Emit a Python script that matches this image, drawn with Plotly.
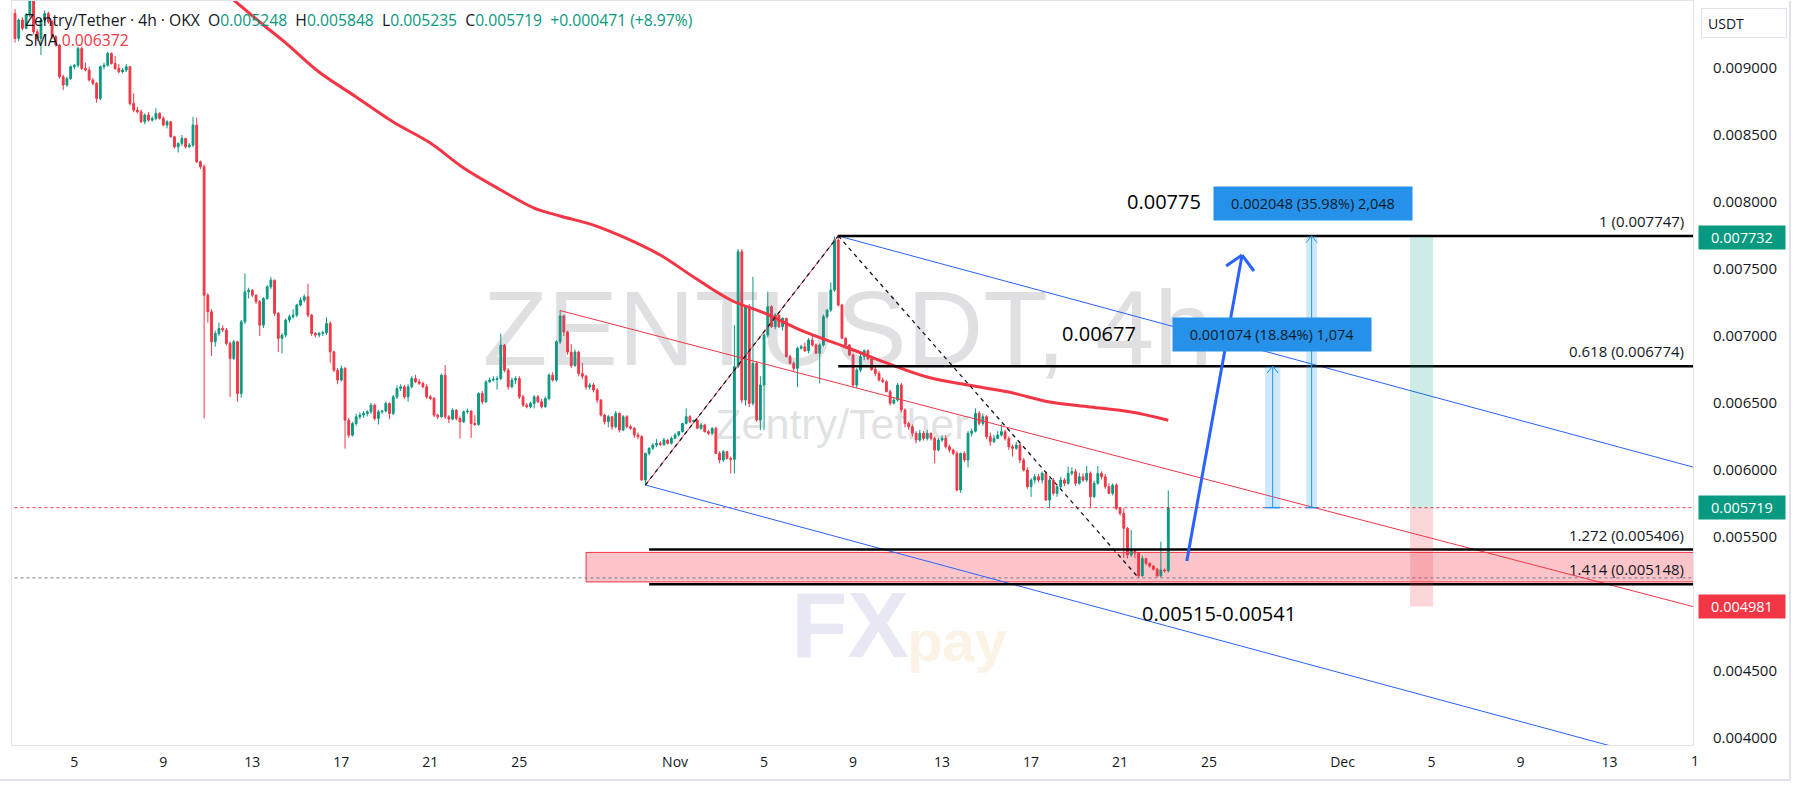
import pandas as pd
import plotly.graph_objects as go

# ---------------- data (prices in micro-USDT, 1e-6) ----------------
UNIT = 1e-6
T0 = pd.Timestamp("2024-10-02 08:00")
BAR_HOURS = 4

opens = [
    9407, 9221, 9358, 9296, 9395, 9500, 9270, 9221, 9358, 9407,
    9345, 9233, 9171, 8935, 8873, 8922, 9010, 9020, 9146, 8997,
    8985, 8910, 8885, 8773, 9010, 9020, 9109, 9034, 8997, 8972,
    8985, 9010, 8735, 8686, 8673, 8599, 8649, 8611, 8624, 8661,
    8624, 8574, 8599, 8487, 8412, 8437, 8474, 8412, 8425, 8574,
    8300, 8263, 7305, 7181, 6957, 7019, 7057, 7045, 6945, 6832,
    6957, 6571, 7106, 7330, 7342, 7305, 7256, 7081, 7280, 7367,
    7417, 7169, 6982, 7007, 7119, 7144, 7156, 7231, 7268, 7293,
    7156, 7019, 7007, 7019, 7024, 7094, 6882, 6745, 6671, 6758,
    6372, 6260, 6347, 6397, 6410, 6422, 6434, 6484, 6385, 6434,
    6440, 6497, 6422, 6546, 6608, 6621, 6546, 6621, 6683, 6658,
    6646, 6621, 6546, 6534, 6410, 6397, 6708, 6397, 6380, 6447,
    6385, 6360, 6434, 6440, 6347, 6340, 6571, 6509, 6658, 6671,
    6676, 6683, 6932, 6745, 6621, 6671, 6683, 6546, 6484, 6472,
    6497, 6546, 6509, 6472, 6534, 6708, 6671, 6957, 7150, 7030,
    6880, 6780, 6880, 6720, 6700, 6620, 6635, 6597, 6522, 6410,
    6361, 6398, 6323, 6423, 6298, 6398, 6323, 6311, 6262, 6249,
    5925, 6124, 6162, 6186, 6199, 6190, 6224, 6199, 6236, 6261,
    6286, 6348, 6398, 6360, 6370, 6311, 6336, 6286, 6274, 6311,
    6124, 6075, 6137, 6087, 6080, 6771, 7629, 6522, 7219, 6497,
    6796, 6373, 6634, 7007, 7219, 7070, 7157, 7070, 7132, 6846,
    6796, 6759, 6908, 6920, 6890, 6970, 6933, 6871, 6933, 7144,
    7194, 7343, 7716, 7231, 6983, 6933, 6858, 6634, 6746, 6846,
    6890, 6830, 6750, 6721, 6672, 6659, 6585, 6498, 6522, 6634,
    6448, 6348, 6323, 6274, 6224, 6274, 6236, 6274, 6236, 6149,
    6224, 6236, 6174, 6149, 6124, 5851, 6124, 6075, 6274, 6290,
    6423, 6348, 6398, 6249, 6212, 6236, 6261, 6286, 6236, 6174,
    6162, 6187, 6075, 6000, 5876, 5925, 5950, 5925, 5975, 5776,
    5925, 5826, 5876, 5925, 5901, 5975, 5988, 5901, 5950, 5925,
    5975, 5801, 5901, 5975, 5950, 5876, 5826, 5888, 5714, 5677,
    5565, 5366, 5403, 5378, 5210, 5340, 5304, 5284, 5259, 5210,
    5254, 5248,
]
highs = [
    9440, 9370, 9380, 9410, 9530, 9510, 9290, 9370, 9430, 9420,
    9360, 9245, 9180, 8950, 8935, 9020, 9030, 9160, 9160, 9040,
    9010, 8925, 8895, 9020, 9040, 9120, 9115, 9090, 9030, 9000,
    9030, 9015, 8810, 8710, 8690, 8660, 8670, 8640, 8700, 8670,
    8640, 8610, 8605, 8495, 8445, 8500, 8480, 8440, 8636, 8630,
    8310, 8280, 7320, 7200, 7040, 7100, 7080, 7060, 6960, 6970,
    6965, 7120, 7467, 7360, 7350, 7310, 7270, 7290, 7380, 7440,
    7420, 7180, 7020, 7130, 7160, 7200, 7240, 7290, 7310, 7390,
    7165, 7030, 7030, 7040, 7140, 7110, 6890, 6760, 6780, 6770,
    6390, 6360, 6420, 6430, 6440, 6445, 6500, 6495, 6450, 6450,
    6510, 6505, 6560, 6630, 6640, 6635, 6640, 6700, 6710, 6680,
    6660, 6640, 6560, 6545, 6420, 6720, 6783, 6410, 6460, 6455,
    6400, 6445, 6460, 6445, 6410, 6580, 6590, 6670, 6690, 6700,
    6700, 7019, 6940, 6760, 6690, 6700, 6700, 6560, 6500, 6510,
    6560, 6560, 6530, 6550, 6720, 6730, 6970, 7194, 7160, 7040,
    6940, 6900, 6890, 6800, 6710, 6650, 6650, 6610, 6530, 6420,
    6410, 6400, 6440, 6430, 6410, 6410, 6340, 6320, 6280, 6260,
    6130, 6170, 6200, 6230, 6215, 6240, 6230, 6250, 6275, 6290,
    6350, 6460, 6410, 6375, 6380, 6350, 6345, 6300, 6320, 6325,
    6140, 6150, 6140, 6100, 7082, 7650, 7650, 7230, 7240, 7443,
    6810, 6700, 7020, 7331, 7230, 7170, 7160, 7140, 7135, 6860,
    6810, 6920, 6935, 6950, 6985, 7000, 6945, 6945, 7160, 7200,
    7400, 7741, 7754, 7240, 6990, 6940, 6870, 6760, 6880, 6900,
    6900, 6850, 6780, 6740, 6690, 6670, 6600, 6540, 6650, 6650,
    6460, 6360, 6340, 6290, 6300, 6290, 6300, 6280, 6250, 6240,
    6260, 6260, 6190, 6160, 6140, 6130, 6140, 6290, 6310, 6460,
    6440, 6420, 6410, 6280, 6260, 6290, 6340, 6300, 6250, 6190,
    6210, 6200, 6090, 6020, 5940, 5970, 5970, 5990, 5990, 5940,
    5940, 5880, 5950, 5940, 6025, 6020, 6010, 5980, 5975, 6030,
    5990, 5920, 6030, 5990, 5970, 5900, 5900, 5900, 5725, 5714,
    5575, 5552, 5410, 5390, 5360, 5345, 5310, 5290, 5270, 5465,
    5265, 5848,
]
lows = [
    9190, 9200, 9280, 9290, 9380, 9250, 9200, 9097, 9340, 9330,
    9220, 9160, 8920, 8835, 8860, 8910, 8990, 9005, 8985, 8975,
    8900, 8870, 8741, 8760, 8990, 9010, 9025, 8985, 8960, 8960,
    8970, 8720, 8670, 8660, 8590, 8580, 8600, 8600, 8610, 8615,
    8565, 8550, 8480, 8400, 8370, 8420, 8400, 8405, 8410, 8290,
    8245, 6385, 7100, 6850, 6920, 7000, 7030, 6930, 6545, 6820,
    6510, 6540, 7090, 7280, 7290, 7240, 7000, 7060, 7270, 7350,
    7150, 6880, 6870, 6990, 7100, 7130, 7140, 7220, 7250, 7140,
    7000, 6990, 6990, 7000, 7010, 6800, 6730, 6640, 6660, 6160,
    6240, 6250, 6330, 6380, 6390, 6400, 6420, 6370, 6340, 6420,
    6430, 6380, 6410, 6530, 6590, 6530, 6510, 6610, 6650, 6635,
    6610, 6530, 6520, 6395, 6380, 6390, 6380, 6350, 6370, 6370,
    6235, 6350, 6420, 6240, 6330, 6330, 6490, 6500, 6650, 6660,
    6600, 6670, 6730, 6600, 6610, 6640, 6530, 6470, 6460, 6460,
    6460, 6500, 6460, 6465, 6520, 6660, 6660, 6940, 7000, 6860,
    6760, 6770, 6700, 6680, 6600, 6600, 6580, 6500, 6400, 6340,
    6320, 6300, 6310, 6280, 6290, 6310, 6300, 6240, 6230, 5920,
    5888, 6110, 6150, 6170, 6180, 6180, 6190, 6190, 6230, 6250,
    6280, 6340, 6350, 6350, 6310, 6300, 6280, 6260, 6260, 6120,
    6050, 6060, 6080, 5975, 5975, 6760, 6500, 6480, 6470, 6480,
    6360, 6298, 6300, 6990, 7060, 7050, 7060, 7040, 6840, 6790,
    6740, 6620, 6900, 6880, 6870, 6920, 6870, 6647, 6920, 7130,
    7180, 7330, 7220, 6980, 6920, 6850, 6620, 6610, 6730, 6820,
    6820, 6740, 6700, 6660, 6650, 6580, 6480, 6490, 6510, 6430,
    6320, 6300, 6250, 6200, 6210, 6220, 6220, 6220, 6050, 6140,
    6210, 6160, 6130, 6110, 5840, 5830, 6060, 6020, 6250, 6280,
    6330, 6330, 6230, 6180, 6200, 6230, 6250, 6220, 6150, 6100,
    6150, 6050, 5990, 5860, 5800, 5900, 5910, 5900, 5770, 5714,
    5810, 5800, 5860, 5880, 5890, 5960, 5880, 5890, 5910, 5910,
    5720, 5790, 5890, 5930, 5860, 5820, 5810, 5700, 5660, 5343,
    5341, 5350, 5341, 5195, 5205, 5290, 5270, 5250, 5200, 5200,
    5235, 5235,
]
closes = [
    9221, 9358, 9296, 9395, 9500, 9270, 9221, 9358, 9407, 9345,
    9233, 9171, 8935, 8873, 8922, 9010, 9020, 9146, 8997, 8985,
    8910, 8885, 8773, 9010, 9020, 9109, 9034, 8997, 8972, 8985,
    9010, 8735, 8686, 8673, 8599, 8649, 8611, 8624, 8661, 8624,
    8574, 8599, 8487, 8412, 8437, 8474, 8412, 8425, 8574, 8300,
    8263, 7305, 7181, 6957, 7019, 7057, 7045, 6945, 6832, 6957,
    6571, 7106, 7330, 7342, 7305, 7256, 7081, 7280, 7367, 7417,
    7169, 6982, 7007, 7119, 7144, 7156, 7231, 7268, 7293, 7156,
    7019, 7007, 7019, 7024, 7094, 6882, 6745, 6671, 6758, 6372,
    6260, 6347, 6397, 6410, 6422, 6434, 6484, 6385, 6434, 6440,
    6497, 6422, 6546, 6608, 6621, 6546, 6621, 6683, 6658, 6646,
    6621, 6546, 6534, 6410, 6397, 6708, 6397, 6380, 6447, 6385,
    6360, 6434, 6440, 6347, 6340, 6571, 6509, 6658, 6671, 6676,
    6683, 6932, 6745, 6621, 6671, 6683, 6546, 6484, 6472, 6497,
    6546, 6509, 6472, 6534, 6708, 6671, 6957, 7150, 7030, 6880,
    6780, 6880, 6720, 6700, 6620, 6635, 6597, 6522, 6410, 6361,
    6398, 6323, 6423, 6298, 6398, 6323, 6311, 6262, 6249, 5925,
    6124, 6162, 6186, 6199, 6190, 6224, 6199, 6236, 6261, 6286,
    6348, 6398, 6360, 6370, 6311, 6336, 6286, 6274, 6311, 6124,
    6075, 6137, 6087, 6080, 6771, 7629, 6522, 7219, 6497, 6796,
    6373, 6634, 7007, 7219, 7070, 7157, 7070, 7132, 6846, 6796,
    6759, 6908, 6920, 6890, 6970, 6933, 6871, 6933, 7144, 7194,
    7343, 7716, 7231, 6983, 6933, 6858, 6634, 6746, 6846, 6890,
    6830, 6750, 6721, 6672, 6659, 6585, 6498, 6522, 6634, 6448,
    6348, 6323, 6274, 6224, 6274, 6236, 6274, 6236, 6149, 6224,
    6236, 6174, 6149, 6124, 5851, 6124, 6075, 6274, 6290, 6423,
    6348, 6398, 6249, 6212, 6236, 6261, 6286, 6236, 6174, 6162,
    6187, 6075, 6000, 5876, 5925, 5950, 5925, 5975, 5776, 5925,
    5826, 5876, 5925, 5901, 5975, 5988, 5901, 5950, 5925, 5975,
    5801, 5901, 5975, 5950, 5876, 5826, 5888, 5714, 5677, 5565,
    5366, 5403, 5378, 5210, 5340, 5304, 5284, 5259, 5210, 5254,
    5248, 5719,
]

# SMA line (bar index, value)
sma_bar = [59, 67, 73, 82, 92, 102, 112, 121, 131, 140, 147, 156, 164, 174,
           183, 193, 202, 213, 224, 235, 246, 257, 268, 279, 290, 301, 311]
sma_val = [9507, 9321, 9187, 8970, 8784, 8597, 8440, 8254, 8090, 7955, 7896,
           7828, 7739, 7604, 7440, 7269, 7172, 7030, 6918, 6799, 6694, 6634,
           6582, 6507, 6470, 6433, 6372]

# Price axis ticks (0.005000 is hidden behind the red price tag in the reference)
y_ticks = [0.0040, 0.0045, 0.0055, 0.0060, 0.0065, 0.0070, 0.0075,
           0.0080, 0.0085, 0.0090]
# Time axis ticks
x_tick_dates = ["2024-10-05", "2024-10-09", "2024-10-13", "2024-10-17",
                "2024-10-21", "2024-10-25", "2024-11-01", "2024-11-05",
                "2024-11-09", "2024-11-13", "2024-11-17", "2024-11-21",
                "2024-11-25", "2024-12-01", "2024-12-05", "2024-12-09",
                "2024-12-13"]
x_tick_text = ["5", "9", "13", "17", "21", "25", "Nov", "5", "9", "13", "17",
               "21", "25", "Dec", "5", "9", "13"]

# Drawing-tool anchors (bar index, price)
red_channel_bar = [147, 452.5]
red_channel_px = [0.00719, 0.004981]
blue_upper_bar = [222, 452.5]
blue_upper_px = [0.007747, 0.006022]
blue_lower_bar = [170, 452.5]
blue_lower_px = [0.005888, 0.003775]
rise_bar = [170, 222]
rise_px = [0.005888, 0.007747]
drop_bar = [222, 303]
drop_px = [0.007747, 0.005195]
fib_names = ["1", "0.618", "1.272", "1.414"]
fib_prices = [0.007747, 0.006774, 0.005406, 0.005148]
fib_start_bar = [222, 222, 171, 171]
zone_bar = 154
zone_px = [0.005165, 0.005385]
last_price = 0.005719
low_line = 0.005195
meas1_bar = [337.1, 341.2]
meas1_px = [0.005719, 0.006774]
meas2_bar = [348.2, 351.1]
meas2_px = [0.005719, 0.007747]
meas_text = ["0.001074 (18.84%) 1,074", "0.002048 (35.98%) 2,048"]
meas_lbl_bar = [338.9, 350.1]
meas_lbl_px = [0.007011, 0.007989]
pos_bar = [376.2, 382.4]
pos_tp, pos_sl = 0.00774, 0.004981
arrow_bar = [316, 330.9]
arrow_px = [0.005321, 0.007604]
barb_bar = [326.6, 334.1]
barb_px = [0.007522, 0.007485]
note_text = ["0.00775", "0.00677", "0.00515-0.00541"]
note_bar = [309.9, 292.3, 324.7]
note_px = [0.008007, 0.007022, 0.004933]
tag_px = [0.007732, 0.005719, 0.004981]
tag_col = ["#089981", "#089981", "#f23645"]

assert len(opens) == len(highs) == len(lows) == len(closes)

# ---------------- helpers ----------------
def bt(i):
    return T0 + pd.Timedelta(hours=BAR_HOURS * i)

GREEN = "#089981"
RED = "#f23645"
BLUE = "#2962ff"
FONT = "'Open Sans', Roboto, sans-serif"
WM = "rgba(120,123,134,0.23)"
WMFONT = "'Liberation Sans', Arial, sans-serif"
times = [bt(i) for i in range(len(closes))]

fig = go.Figure()

# watermarks (below candles)
fig.add_trace(go.Scatter(x=[bt(224.6)], y=[0.006985], mode="text",
                         text=["ZENTUSDT, 4h"], hoverinfo="skip", showlegend=False,
                         textfont=dict(size=106, family=WMFONT, color=WM)))
fig.add_trace(go.Scatter(x=[bt(223)], y=[0.006310], mode="text",
                         text=["Zentry/Tether"], hoverinfo="skip", showlegend=False,
                         textfont=dict(size=43, family=WMFONT, color=WM)))
fig.add_trace(go.Scatter(x=[bt(225.2)], y=[0.004775], mode="text",
                         text=["<b>FX</b>"], hoverinfo="skip", showlegend=False,
                         textfont=dict(size=92, family=WMFONT, color="#e8e8f4")))
fig.add_trace(go.Scatter(x=[bt(254)], y=[0.004680], mode="text",
                         text=["<b>pay</b>"], hoverinfo="skip", showlegend=False,
                         textfont=dict(size=58, family=WMFONT, color="#faf3e6")))

fig.add_trace(go.Candlestick(
    x=times,
    open=[v * UNIT for v in opens], high=[v * UNIT for v in highs],
    low=[v * UNIT for v in lows], close=[v * UNIT for v in closes],
    increasing=dict(line=dict(color=GREEN, width=1), fillcolor=GREEN),
    decreasing=dict(line=dict(color=RED, width=1), fillcolor=RED),
    hoverinfo="skip", showlegend=False))

fig.add_trace(go.Scatter(x=[bt(i) for i in sma_bar], y=[v * UNIT for v in sma_val],
                         mode="lines", line=dict(color=RED, width=3, shape="spline"),
                         hoverinfo="skip", showlegend=False))

shapes = []

def seg(b, p, color, width, dash="solid", layer="above"):
    shapes.append(dict(type="line", xref="x", yref="y", x0=bt(b[0]), y0=p[0],
                       x1=bt(b[1]), y1=p[1], layer=layer,
                       line=dict(color=color, width=width, dash=dash)))

def box(b, p, fill, lc=None, lw=0, layer="above"):
    shapes.append(dict(type="rect", xref="x", yref="y", x0=bt(b[0]), y0=p[0],
                       x1=bt(b[1]), y1=p[1], fillcolor=fill, layer=layer,
                       line=dict(color=lc or fill, width=lw)))

RIGHT = 470
# zone box
box([zone_bar, RIGHT], zone_px, "rgba(242,54,69,0.29)", RED, 1, layer="below")
# dotted horizontal lines
seg([-5, RIGHT], [last_price, last_price], RED, 1, "dot")
seg([-5, RIGHT], [low_line, low_line], "#787b86", 1, "dot")
# channels
seg(red_channel_bar, red_channel_px, RED, 1)
seg(blue_upper_bar, blue_upper_px, BLUE, 1)
seg(blue_lower_bar, blue_lower_px, BLUE, 1)
seg(rise_bar, rise_px, RED, 1)
seg(rise_bar, rise_px, "#131722", 1.3, "4px,4px")
seg(drop_bar, drop_px, "#131722", 1.3, "4px,4px")
# fib levels
for nm, pr, sb in zip(fib_names, fib_prices, fib_start_bar):
    seg([sb, RIGHT], [pr, pr], "#000000", 2.5)
# position tool
box(pos_bar, [last_price, pos_tp], "rgba(8,153,129,0.2)")
box(pos_bar, [pos_sl, last_price], "rgba(242,54,69,0.2)")
# measure bars
for mb, mp in ((meas1_bar, meas1_px), (meas2_bar, meas2_px)):
    box(mb, mp, "rgba(33,150,243,0.22)")
    mid = (mb[0] + mb[1]) / 2
    seg([mid, mid], mp, "#2196f3", 1)
    seg(mb, [mp[0], mp[0]], "#2196f3", 1.5)
    seg([mid - 1.5, mid], [mp[1] - 0.00005, mp[1]], "#2196f3", 1)
    seg([mid + 1.5, mid], [mp[1] - 0.00005, mp[1]], "#2196f3", 1)
# big arrow
seg(arrow_bar, arrow_px, BLUE, 3)
for bb, bp in zip(barb_bar, barb_px):
    seg([bb, arrow_bar[1]], [bp, arrow_px[1]], BLUE, 3)

# outer widget frame
shapes.append(dict(type="line", xref="paper", yref="paper", x0=1.0577, x1=1.0577,
                   y0=-0.047, y1=1.0, line=dict(color="#e0e3eb", width=2)))
shapes.append(dict(type="line", xref="paper", yref="paper", x0=-0.01, x1=1.0577,
                   y0=-0.047, y1=-0.047, line=dict(color="#e0e3eb", width=2)))

ann = []
# header
hdr = ("Zentry/Tether · 4h · OKX\u00a0\u00a0"
       f"O<span style='color:{GREEN}'>0.005248</span>\u00a0\u00a0"
       f"H<span style='color:{GREEN}'>0.005848</span>\u00a0\u00a0"
       f"L<span style='color:{GREEN}'>0.005235</span>\u00a0\u00a0"
       f"C<span style='color:{GREEN}'>0.005719</span>\u00a0\u00a0"
       f"<span style='color:{GREEN}'>+0.000471 (+8.97%)</span>")
ann.append(dict(xref="paper", yref="paper", x=0.0065, y=0.975, xanchor="left",
                yanchor="middle", text=hdr, showarrow=False,
                font=dict(size=15.7, color="#131722", family=FONT)))
ann.append(dict(xref="paper", yref="paper", x=0.0065, y=0.947, xanchor="left",
                yanchor="middle", showarrow=False,
                text=f"SMA\u00a0<span style='color:{RED}'>0.006372</span>",
                font=dict(size=15.7, color="#131722", family=FONT)))
# fib labels
for nm, pr in zip(fib_names, fib_prices):
    ann.append(dict(xref="paper", yref="y", x=0.9958, y=pr, xanchor="right",
                    yanchor="bottom", yshift=3, showarrow=False,
                    text=f"{nm} ({pr:.6f})",
                    font=dict(size=15, color="#131722", family=FONT)))
# notes
for t, b, p in zip(note_text, note_bar, note_px):
    ann.append(dict(xref="x", yref="y", x=bt(b), y=p, showarrow=False, text=t,
                    font=dict(size=20, color="#000000", family=FONT)))
# measure labels
for t, b, p in zip(meas_text, meas_lbl_bar, meas_lbl_px):
    ann.append(dict(xref="x", yref="y", x=bt(b), y=p, showarrow=False, text=t,
                    bgcolor="#2591e8", borderpad=5, width=188, height=23,
                    font=dict(size=14.5, color="#0d1b2a", family=FONT)))
# price tags
for p, c in zip(tag_px, tag_col):
    ann.append(dict(xref="paper", yref="y", x=1.0, y=p, xanchor="left", xshift=5,
                    showarrow=False, text=f"{p:.6f}", bgcolor=c, borderpad=3,
                    width=80, height=17,
                    font=dict(size=14.5, color="#ffffff", family=FONT)))
# currency box
ann.append(dict(xref="paper", yref="paper", x=1.0, y=0.971, xanchor="left",
                yanchor="middle", xshift=8, showarrow=False, text="USDT",
                align="left", bgcolor="#ffffff", bordercolor="#e0e3eb",
                borderwidth=1, borderpad=6, width=72, height=16,
                font=dict(size=14, color="#131722", family=FONT)))
# partially hidden time label at the right edge
ann.append(dict(xref="paper", yref="paper", x=1.005, y=-0.021, yanchor="middle",
                showarrow=False, text="1",
                font=dict(size=14, color="#131722", family=FONT)))

fig.update_layout(
    width=1803, height=795,
    margin=dict(l=12, r=110, t=1, b=50),
    paper_bgcolor="#ffffff", plot_bgcolor="#ffffff",
    showlegend=False, shapes=shapes, annotations=ann,
    font=dict(family=FONT, color="#131722", size=14),
    xaxis=dict(type="date", range=[bt(-0.81), bt(452.5)], rangeslider=dict(visible=False),
               showgrid=False, zeroline=False, tickvals=[pd.Timestamp(d) for d in x_tick_dates],
               ticktext=x_tick_text, ticks="", showline=True, linecolor="#e0e3eb",
               mirror=True, ticklabelstandoff=4,
               tickfont=dict(size=14, color="#131722", family=FONT)),
    yaxis=dict(side="right", range=[0.003948, 0.0095], tickvals=y_ticks,
               tickformat=".6f", showgrid=False, zeroline=False, ticks="",
               showline=True, linecolor="#e0e3eb", mirror=True,
               ticklabelstandoff=16,
               tickfont=dict(size=15, color="#131722", family=FONT)),
)

fig.write_html("out.html", config={"displayModeBar": False},
               post_script="document.body.style.margin='0px';"
                           "document.body.style.overflow='hidden';")
